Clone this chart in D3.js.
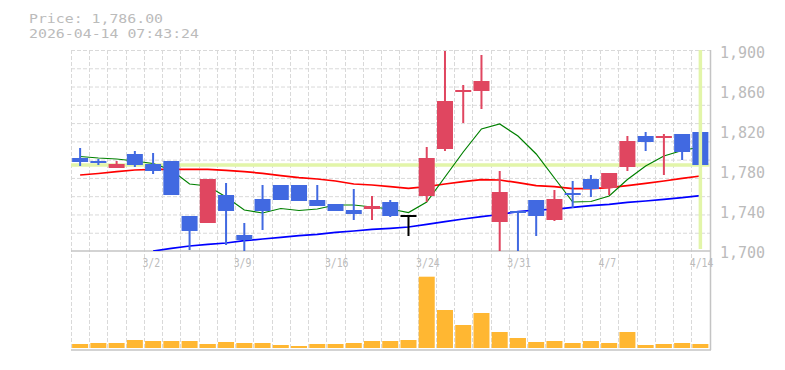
<!DOCTYPE html>
<html>
<head>
<meta charset="utf-8">
<script src="https://cdn.jsdelivr.net/npm/d3@7"></script>
<style>
html,body{margin:0;padding:0;background:#fff;}
svg{display:block;}
text{font-family:"DejaVu Sans Mono",monospace;fill:#bbbbbb;}
</style>
</head>
<body>
<svg id="chart" width="785" height="370"></svg>
<script>
// ---- data ----
const dates = ["2/24","2/25","2/26","2/27","3/2","3/3","3/4","3/5","3/6","3/9","3/10","3/11","3/12","3/13","3/16","3/17","3/18","3/19","3/23","3/24","3/25","3/26","3/27","3/30","3/31","4/1","4/2","4/3","4/6","4/7","4/8","4/9","4/10","4/13","4/14"];
const openP  = [1793,1790,1783,1797,1787,1790,1735,1728,1756,1716,1752,1766,1766,1751,1747,1741,1742,1749,1735,1755,1802,1859,1860,1729,1740,1751,1731,1758,1772,1763,1784,1815,1813,1817,1819];
const highP  = [1803,1792,1790,1800,1798,1790,1735,1772,1768,1728,1766,1766,1766,1766,1747,1762,1755,1751,1735,1804,1900,1866,1896,1780,1740,1751,1761,1770,1776,1778,1815,1819,1817,1817,1819];
const lowP   = [1785,1786,1783,1784,1777,1756,1701,1728,1706,1700,1721,1751,1750,1745,1740,1731,1731,1734,1715,1749,1800,1828,1842,1700,1700,1715,1730,1743,1754,1756,1780,1800,1776,1791,1786];
const closeP = [1789,1788,1787,1786,1780,1756,1720,1772,1740,1711,1740,1751,1750,1745,1740,1737,1745,1735,1735,1793,1850,1861,1870,1759,1738,1735,1752,1756,1762,1778,1810,1809,1815,1799,1786];
const ma5  = [1794.5,1793,1792,1790,1787.5,1781,1767,1765,1754,1741,1738,1742.5,1740.5,1742,1746,1746,1744,1742,1738.5,1749,1774,1799,1822,1827,1815,1797,1773,1749,1749.5,1755,1771.5,1785,1795,1800.5,1804];
const ma25 = [1776,1777.5,1779.3,1781,1781.7,1781.7,1781.7,1781.7,1780.7,1779.3,1777.7,1775.3,1773.3,1772,1770,1767,1766,1764.3,1762.7,1764.3,1767,1769.3,1771.3,1771,1768.3,1765.3,1764.3,1762.3,1762.3,1763.3,1765.3,1767.7,1770,1772.7,1775];
const ma75 = [null,null,null,null,1700,1702.7,1705,1706.7,1708,1710.3,1712,1713.7,1715.3,1716.7,1718.7,1720,1721.7,1722.7,1724,1726.7,1729.3,1732,1734.3,1736.5,1739.3,1741,1741.7,1743.7,1745.3,1746.7,1748.7,1750,1751.7,1753.3,1755.3];
const volume = [4000,5000,5000,8000,7000,7000,7000,4000,6000,5000,5000,3000,2000,4000,4000,5000,7000,7000,8000,71300,38000,23000,35000,16000,10000,6000,7000,5000,7000,5000,16000,3000,4000,5000,4000];
const xTickLabels = ["3/2","3/9","3/16","3/24","3/31","4/7","4/14"];
const yTicks = [1700,1740,1780,1820,1860,1900];
const lastPrice = 1786.00;
const titleLines = ["Price: 1,786.00","2026-04-14 07:43:24"];

// ---- layout ----
const svg = d3.select("#chart");
const L = 71, R = 709.5, T = 50, B = 251, VB = 348;
const idx = d3.range(dates.length);
const x = d3.scaleBand().domain(idx).range([L, R]).padding(0);
const bw = x.bandwidth();
const cx = i => x(i) + bw / 2;
const y = d3.scaleLinear().domain([1700, 1900]).range([B, T + 1]);
const yv = d3.scaleLinear().domain([0, 80000]).range([VB, VB - 80]);

const UP = "#e04660", DOWN = "#4169e1";

// clip
svg.append("defs").append("clipPath").attr("id", "plotClip")
  .append("rect").attr("x", L).attr("y", T).attr("width", R - L + 1).attr("height", B - T);

// grid
const grid = svg.append("g").attr("stroke", "#d9d9d9").attr("stroke-dasharray", "4,2").attr("stroke-width", 1);
const rowH = (B - T) / 11;
d3.range(11).forEach(k => {
  grid.append("line").attr("x1", L).attr("x2", R + 0.5).attr("y1", T + k * rowH + 0.5).attr("y2", T + k * rowH + 0.5);
});
idx.concat([dates.length]).forEach(i => {
  const xx = i < dates.length ? x(i) : R;
  grid.append("line").attr("x1", Math.round(xx) + 0.5).attr("x2", Math.round(xx) + 0.5).attr("y1", T).attr("y2", VB + 2);
});

// frame lines
svg.append("line").attr("x1", L).attr("x2", 711).attr("y1", B).attr("y2", B).attr("stroke", "#c4c4c4").attr("stroke-width", 1.5);
svg.append("line").attr("x1", L).attr("x2", 711).attr("y1", 350).attr("y2", 350).attr("stroke", "#c4c4c4").attr("stroke-width", 1.5);
svg.append("line").attr("x1", 710.5).attr("x2", 710.5).attr("y1", T).attr("y2", 350).attr("stroke", "#c4c4c4").attr("stroke-width", 1.5);

const plot = svg.append("g").attr("clip-path", "url(#plotClip)");

// current price marker lines
plot.append("line").attr("x1", L).attr("x2", R).attr("y1", y(lastPrice)).attr("y2", y(lastPrice))
  .attr("stroke", "#e2f5a9").attr("stroke-width", 3.5);
svg.append("line").attr("x1", cx(dates.length - 1)).attr("x2", cx(dates.length - 1)).attr("y1", T).attr("y2", B - 2)
  .attr("stroke", "#e2f5a9").attr("stroke-width", 3.5);

// moving averages
const line = d3.line().defined(d => d != null).x((d, i) => cx(i)).y(d => y(d));
plot.append("path").attr("d", line(ma75)).attr("fill", "none").attr("stroke", "#0000ff").attr("stroke-width", 1.7);
plot.append("path").attr("d", line(ma25)).attr("fill", "none").attr("stroke", "#ff0000").attr("stroke-width", 1.7);
plot.append("path").attr("d", line(ma5)).attr("fill", "none").attr("stroke", "#008000").attr("stroke-width", 1.2);

// candles
const cw = 16;
idx.forEach(i => {
  const o = openP[i], c = closeP[i], h = highP[i], l = lowP[i];
  const col = c > o ? UP : (c < o ? DOWN : "#000000");
  plot.append("line").attr("x1", cx(i)).attr("x2", cx(i)).attr("y1", y(h)).attr("y2", y(l))
    .attr("stroke", col).attr("stroke-width", 2);
  const top = y(Math.max(o, c)), bot = y(Math.min(o, c));
  const hgt = Math.max(bot - top, 2);
  plot.append("rect").attr("x", cx(i) - cw / 2).attr("y", bot - top < 2 ? (top + bot) / 2 - 1 : top)
    .attr("width", cw).attr("height", hgt).attr("fill", col);
});

// volume bars
svg.append("g").selectAll("rect").data(volume).join("rect")
  .attr("x", (d, i) => cx(i) - cw / 2).attr("y", d => yv(d))
  .attr("width", cw).attr("height", d => VB - yv(d)).attr("fill", "#ffb732");

// y labels
svg.append("g").selectAll("text").data(yTicks).join("text")
  .attr("x", 720).attr("y", d => y(d) + 7).attr("font-size", 15)
  .text(d => d3.format(",")(d));

// x labels
svg.append("g").selectAll("text").data(xTickLabels).join("text")
  .attr("x", d => x(dates.indexOf(d)) - 1.5).attr("y", 267).attr("font-size", 13)
  .attr("textLength", d => d.length * 5.9).attr("lengthAdjust", "spacingAndGlyphs")
  .text(d => d);

// title
svg.append("g").selectAll("text").data(titleLines).join("text")
  .attr("x", 29).attr("y", (d, i) => 22.5 + i * 15.5).attr("font-size", 13)
  .attr("textLength", d => d.length * 9 - 1).attr("lengthAdjust", "spacingAndGlyphs")
  .text(d => d);
</script>
</body>
</html>
